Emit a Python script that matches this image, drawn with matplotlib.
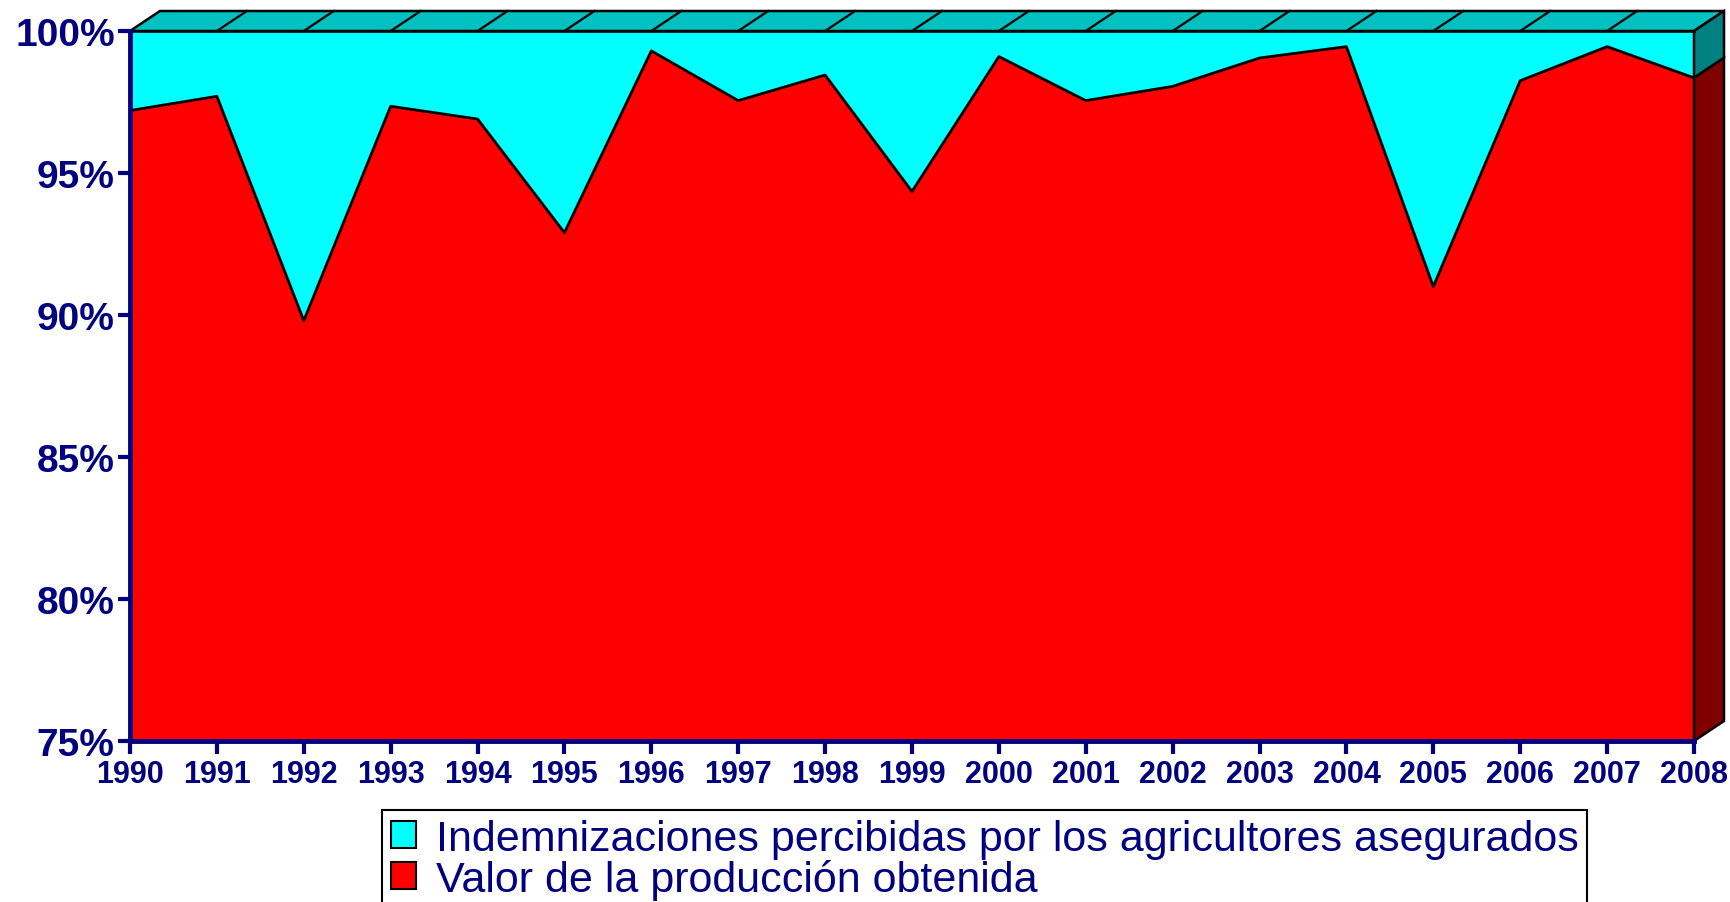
import matplotlib
matplotlib.use("Agg")
import matplotlib.pyplot as plt
from matplotlib.patches import Polygon, Patch

years = list(range(1990, 2009))
valor = [97.2, 97.7, 89.8, 97.35, 96.9, 92.9, 99.3, 97.55, 98.45, 94.35,
         99.1, 97.55, 98.05, 99.05, 99.45, 91.0, 98.25, 99.45, 98.35]
ytick_vals = [75, 80, 85, 90, 95, 100]
ytick_labels = ["75%", "80%", "85%", "90%", "95%", "100%"]
legend_labels = ["Indemnizaciones percibidas por los agricultores asegurados",
                 "Valor de la producción obtenida"]

NAVY = "#000080"
RED = "#FF0000"
CYAN = "#00FFFF"

plt.rcParams['font.family'] = ['Liberation Sans', 'DejaVu Sans']

fig = plt.figure(figsize=(17.31, 9.03), dpi=100)
ax = fig.add_axes([130/1731, 1-742/903, (1694-130)/1731, (742-32)/903])

ax.fill_between(years, 75, valor, color=RED, lw=0, zorder=1)
ax.fill_between(years, valor, 100, color=CYAN, lw=0, zorder=1)
ax.plot(years, valor, color="black", lw=2, zorder=3)

ax.set_xlim(1990, 2008)
ax.set_ylim(75, 100)

# 3D depth offsets (data units)
dx = 30 / ((1694-130)/18)
dy = 20 / ((742-32)/25)
x0, x1 = years[0], years[-1]
top = Polygon([(x0, 100), (x0+dx, 100+dy), (x1+dx, 100+dy), (x1, 100)],
              closed=True, facecolor="#00C0C0", edgecolor="black", lw=1.8,
              clip_on=False, zorder=2)
ax.add_patch(top)
for yr in years[1:-1]:
    ax.plot([yr, yr+dx], [100, 100+dy], color="black", lw=1.6, clip_on=False, zorder=3)
v_end = valor[-1]
side_top = Polygon([(x1, 100), (x1+dx, 100+dy), (x1+dx, v_end+dy), (x1, v_end)],
                   closed=True, facecolor="#008080", edgecolor="black", lw=1.8,
                   clip_on=False, zorder=2)
side_bot = Polygon([(x1, v_end), (x1+dx, v_end+dy), (x1+dx, 75+dy), (x1, 75)],
                   closed=True, facecolor="#800000", edgecolor="black", lw=1.8,
                   clip_on=False, zorder=2)
ax.add_patch(side_top)
ax.add_patch(side_bot)
ax.plot([x0, x1], [100, 100], color="black", lw=1.8, clip_on=False, zorder=3)

for s in ["top", "right"]:
    ax.spines[s].set_visible(False)
for s in ["left", "bottom"]:
    ax.spines[s].set_color(NAVY)
    ax.spines[s].set_linewidth(3.5)
    ax.spines[s].set_zorder(4)

ax.set_xticks(years)
ax.set_xticklabels([str(y) for y in years], fontsize=22, fontweight="bold", color=NAVY)
ax.set_yticks(ytick_vals)
ax.set_yticklabels(ytick_labels, fontsize=28, fontweight="bold", color=NAVY)
ax.tick_params(axis="both", direction="out", length=9, width=3, color=NAVY)
ax.tick_params(axis="x", pad=4)
ax.tick_params(axis="y", pad=2)

handles = [Patch(facecolor=CYAN, edgecolor="black", lw=1.5),
           Patch(facecolor=RED, edgecolor="black", lw=1.5)]
leg = fig.legend(handles, legend_labels, loc="upper left",
                 bbox_to_anchor=(382/1731, 1-811/903),
                 fontsize=31, frameon=True, fancybox=False, framealpha=1,
                 edgecolor="black", borderpad=0.2, labelspacing=0.0,
                 handlelength=0.6, handleheight=0.6, handletextpad=0.45,
                 borderaxespad=0)
leg.get_frame().set_linewidth(1.5)
for t in leg.get_texts():
    t.set_color(NAVY)

fig.savefig("out.png", dpi=100)
